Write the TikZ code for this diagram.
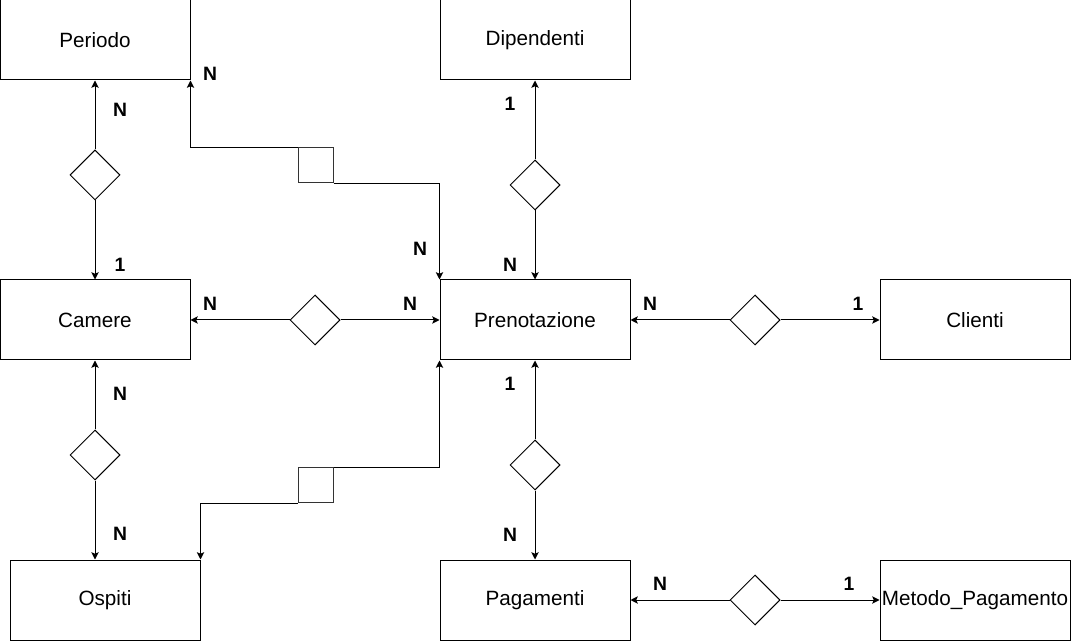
\documentclass[tikz,border=0pt]{standalone}
\usepackage{fontspec}
\setmainfont{Liberation Sans}
\usetikzlibrary{shapes.geometric,arrows.meta}
\begin{document}
\begin{tikzpicture}[x=0.75pt,y=-0.75pt,
  entity/.style={draw,line width=0.75pt,minimum width=142.5pt,minimum height=60pt,inner sep=0pt,font=\fontsize{15.5}{18}\selectfont},
  rel/.style={draw,diamond,line width=0.75pt,minimum width=37.5pt,minimum height=37.5pt,inner sep=0pt},
  sq/.style={draw,line width=0.75pt,minimum width=26.25pt,minimum height=26.25pt,inner sep=0pt,draw=black!80},
  card/.style={font=\fontsize{14.5}{17}\selectfont\bfseries,inner sep=0pt},
  arr/.style={line width=0.75pt,-{Stealth[length=5.5pt,width=5.5pt,inset=1.2pt]}},
  ln/.style={line width=0.75pt}]
\useasboundingbox (0,0) rectangle (1071,641);
% entities
\node[entity] (per) at (95,40) {Periodo};
\node[entity] (dip) at (535,40) {Dipendenti};
\node[entity] (cam) at (95,320) {Camere};
\node[entity] (pre) at (535,320) {Prenotazione};
\node[entity] (cli) at (975,320) {Clienti};
\node[entity] (osp) at (105,600) {Ospiti};
\node[entity] (pag) at (535,600) {Pagamenti};
\node[entity] (met) at (975,600) {Metodo\_Pagamento};
% relationships
\node[rel] (d1) at (95,175) {};
\node[rel] (d2) at (315,320) {};
\node[rel] (d3) at (535,185) {};
\node[rel] (d4) at (755,320) {};
\node[rel] (d5) at (95,455) {};
\node[rel] (d6) at (535,465) {};
\node[rel] (d7) at (755,600) {};
\node[sq] (sa) at (315.5,165.5) {};
\node[sq] (sb) at (315.5,485) {};
% connectors
\draw[arr] (d1) -- (per);
\draw[arr] (d1) -- (cam);
\draw[arr] (d2) -- (cam);
\draw[arr] (d2) -- (pre);
\draw[arr] (d3) -- (dip);
\draw[arr] (d3) -- (pre);
\draw[arr] (d4) -- (pre);
\draw[arr] (d4) -- (cli);
\draw[arr] (d5) -- (cam);
\draw[arr] (d5) -- (d5 |- osp.north);
\draw[arr] (d6) -- (pre);
\draw[arr] (d6) -- (pag);
\draw[arr] (d7) -- (pag);
\draw[arr] (d7) -- (met);
\draw[arr] (sa.south east) -| (pre.north west);
\draw[arr] (sa.north west) -| (per.south east);
\draw[arr] (sb.north east) -| (pre.south west);
\draw[arr] (sb.south west) -| (osp.north east);
% cardinalities
\node[card] (c1) at (120,110) {N};
\node[card] (c2) at (120,265) {1};
\node[card] (c3) at (210,74) {N};
\node[card] (c4) at (420,249) {N};
\node[card] (c5) at (510,104) {1};
\node[card] (c6) at (510,265) {N};
\node[card] (c7) at (210,304) {N};
\node[card] (c8) at (410,304) {N};
\node[card] (c9) at (650,304) {N};
\node[card] (c10) at (858,304) {1};
\node[card] (c11) at (120,394) {N};
\node[card] (c12) at (120,534) {N};
\node[card] (c13) at (510,384) {1};
\node[card] (c14) at (510,535) {N};
\node[card] (c15) at (660,584) {N};
\node[card] (c16) at (849,584) {1};
\end{tikzpicture}
\end{document}
